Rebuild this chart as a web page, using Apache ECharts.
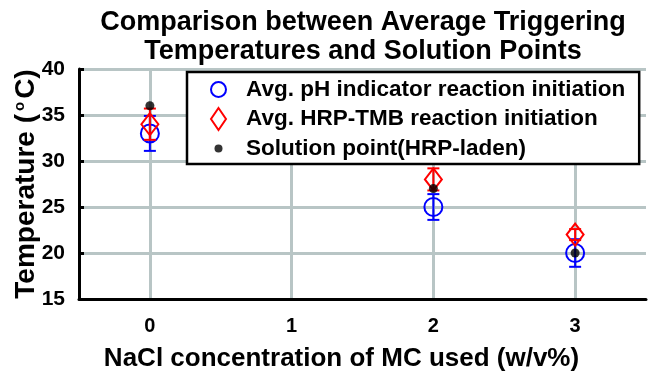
<!DOCTYPE html>
<html>
<head>
<meta charset="utf-8">
<script src="https://cdn.jsdelivr.net/npm/echarts@6/dist/echarts.min.js"></script>
<style>
  html, body { margin: 0; padding: 0; background: #fff; }
  #chart { width: 650px; height: 380px; }
</style>
</head>
<body>
<div id="chart"></div>
<script>
// --- data ---
const categories = ['0', '1', '2', '3'];
const yTicks = [15, 20, 25, 30, 35, 40];

// x positions are category indexes (NaCl 0, 2, 3 w/v%)
const xIdx = [0, 2, 3];
const phMean = [33, 25, 20];
const phErr = [1.9, 1.4, 1.5];
const tmbMean = [34, 28, 22];
const tmbErr = [1.7, 1.2, 0.6];
const solPoint = [36, 27, 20];

const FONT = '"Liberation Sans", Arial, sans-serif';
const NAMES = [
  'Avg. pH indicator reaction initiation',
  'Avg. HRP-TMB reaction initiation',
  'Solution point(HRP-laden)'
];
// small dot inside a 15x22 icon box (the two moveTo's fix the box size)
const DOT_ICON = 'path://M0,0M15,22M7.5,7A4,4,0,1,1,7.5,15A4,4,0,1,1,7.5,7Z';

// error bar drawing (vertical line + caps) through the axis scales
const errRender = (color) => (params, api) => {
  const x = api.value(0);
  const top = api.coord([x, api.value(2)]);
  const bot = api.coord([x, api.value(1)]);
  const w = 6;
  const st = { stroke: color, lineWidth: 2 };
  return {
    type: 'group',
    children: [
      { type: 'line', shape: { x1: top[0], y1: top[1], x2: bot[0], y2: bot[1] }, style: st },
      { type: 'line', shape: { x1: top[0] - w, y1: top[1], x2: top[0] + w, y2: top[1] }, style: st },
      { type: 'line', shape: { x1: bot[0] - w, y1: bot[1], x2: bot[0] + w, y2: bot[1] }, style: st }
    ]
  };
};

const pts = (vals) => xIdx.map((x, i) => [x, vals[i]]);
const bars = (mean, err) => xIdx.map((x, i) => [x, mean[i] - err[i], mean[i] + err[i]]);

const chart = echarts.init(document.getElementById('chart'));
chart.setOption({
  animation: false,
  backgroundColor: '#fff',
  textStyle: { fontFamily: FONT },
  title: {
    text: 'Comparison between Average Triggering\nTemperatures and Solution Points',
    left: 358,
    textAlign: 'center',
    top: 3,
    textStyle: { fontFamily: FONT, fontSize: 27, fontWeight: 'bold', color: '#000', lineHeight: 29 }
  },
  grid: { left: 79, right: 4, top: 69, bottom: 81, outerBoundsMode: 'none' },
  legend: {
    orient: 'vertical',
    left: 187,
    top: 72,
    padding: [6, 14, 4, 23],
    itemWidth: 15,
    itemHeight: 22,
    itemGap: 6,
    borderColor: '#000',
    borderWidth: 2.5,
    backgroundColor: '#fff',
    data: [
      { name: NAMES[0], icon: 'circle', itemStyle: { color: 'rgba(255,255,255,0)', borderColor: '#0000ff', borderWidth: 2 } },
      { name: NAMES[1], icon: 'diamond', itemStyle: { color: 'rgba(255,255,255,0)', borderColor: '#ff0000', borderWidth: 2 } },
      { name: NAMES[2], icon: DOT_ICON, itemStyle: { color: '#000', borderWidth: 0 } }
    ],
    textStyle: { fontFamily: FONT, fontSize: 22.5, fontWeight: 'bold', color: '#000', padding: [0, 0, 0, 15] }
  },
  xAxis: {
    type: 'category',
    data: categories,
    boundaryGap: true,
    name: 'NaCl concentration of MC used (w/v%)',
    nameLocation: 'middle',
    nameGap: 47,
    nameMoveOverlap: false,
    nameTextStyle: { fontFamily: FONT, fontSize: 26, fontWeight: 'bold', color: '#000', padding: [0, 42, 0, 0] },
    axisLine: { lineStyle: { color: '#000', width: 3 } },
    axisTick: { alignWithLabel: true, inside: true, length: 5, lineStyle: { color: '#000', width: 3 } },
    axisLabel: { margin: 17, fontFamily: FONT, fontSize: 20, fontWeight: 'bold', color: '#000' },
    splitLine: { show: true, alignWithLabel: true, lineStyle: { color: '#b8c5c5', width: 3 } }
  },
  yAxis: {
    type: 'value',
    min: yTicks[0],
    max: yTicks[yTicks.length - 1],
    interval: 5,
    name: 'Temperature ({sup|o}C)',
    nameLocation: 'middle',
    nameRotate: 90,
    nameGap: 38,
    nameMoveOverlap: false,
    nameTextStyle: {
      fontFamily: FONT, fontSize: 28, fontWeight: 'bold', color: '#000',
      rich: { sup: { fontFamily: FONT, fontSize: 15, color: '#000', verticalAlign: 'top', padding: [0, 3, 14, 3] } }
    },
    axisLine: { show: true, lineStyle: { color: '#000', width: 3 } },
    axisTick: { show: true, inside: true, length: 5, lineStyle: { color: '#000', width: 3 } },
    axisLabel: { margin: 14, fontFamily: FONT, fontSize: 21, fontWeight: 'bold', color: '#000' },
    splitLine: { show: true, lineStyle: { color: '#b8c5c5', width: 3 } }
  },
  series: [
    {
      name: 'phErr', type: 'custom', renderItem: errRender('#0000ff'),
      encode: { x: 0, y: [1, 2] }, data: bars(phMean, phErr), z: 2
    },
    {
      name: NAMES[0], type: 'scatter',
      symbol: 'circle', symbolSize: 18,
      itemStyle: { color: 'rgba(255,255,255,0)', borderColor: '#0000ff', borderWidth: 2, opacity: 1 },
      data: pts(phMean), z: 3
    },
    {
      name: 'tmbErr', type: 'custom', renderItem: errRender('#ff0000'),
      encode: { x: 0, y: [1, 2] }, data: bars(tmbMean, tmbErr), z: 4
    },
    {
      name: NAMES[1], type: 'scatter',
      symbol: 'diamond', symbolSize: [17, 22],
      itemStyle: { color: 'rgba(255,255,255,0)', borderColor: '#ff0000', borderWidth: 2, opacity: 1 },
      data: pts(tmbMean), z: 5
    },
    {
      name: NAMES[2], type: 'scatter',
      symbol: 'circle', symbolSize: 9,
      itemStyle: { color: '#000' },
      data: pts(solPoint), z: 6
    }
  ]
});
</script>
</body>
</html>
